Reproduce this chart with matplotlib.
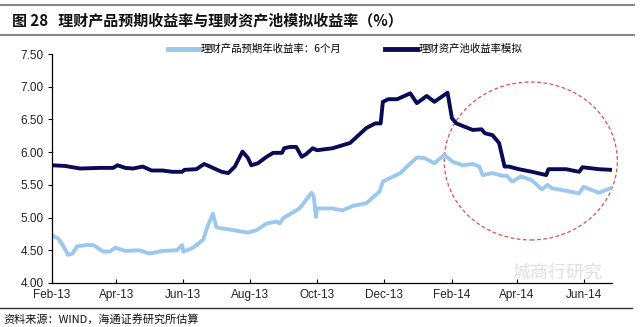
import numpy as np
import pandas as pd
import matplotlib
matplotlib.use("Agg")
import matplotlib.pyplot as plt
import matplotlib.dates as mdates
from matplotlib.patches import Ellipse

plt.rcParams['font.family'] = ['Noto Sans CJK SC', 'DejaVu Sans']

# ---- data ----
pool_dates = ["2013-02-01", "2013-02-13", "2013-02-27", "2013-03-17", "2013-03-29", "2013-04-02",
              "2013-04-09", "2013-04-16", "2013-04-25", "2013-05-03", "2013-05-13", "2013-05-22",
              "2013-05-31", "2013-06-02", "2013-06-13", "2013-06-20", "2013-06-28", "2013-07-06",
              "2013-07-12", "2013-07-18", "2013-07-25", "2013-07-30", "2013-08-02", "2013-08-08",
              "2013-08-16", "2013-08-22", "2013-08-30", "2013-09-01", "2013-09-06", "2013-09-12",
              "2013-09-17", "2013-09-21", "2013-09-27", "2013-10-01", "2013-10-15", "2013-10-31",
              "2013-11-15", "2013-11-23", "2013-11-28", "2013-11-30", "2013-12-05", "2013-12-13",
              "2013-12-25", "2013-12-31", "2014-01-09", "2014-01-16", "2014-01-28", "2014-02-01",
              "2014-02-05", "2014-02-20", "2014-02-28", "2014-03-03", "2014-03-10", "2014-03-16",
              "2014-03-21", "2014-03-25", "2014-04-03", "2014-04-15", "2014-04-28", "2014-04-30",
              "2014-05-16", "2014-05-28", "2014-05-31", "2014-06-15", "2014-06-26"]
pool_vals = [5.80, 5.79, 5.75, 5.76, 5.76, 5.80,
             5.76, 5.75, 5.78, 5.72, 5.72, 5.70,
             5.70, 5.73, 5.74, 5.82, 5.76, 5.70,
             5.68, 5.78, 6.01, 5.91, 5.80, 5.83,
             5.93, 5.99, 5.99, 6.06, 6.08, 6.08,
             5.93, 5.97, 6.06, 6.03, 6.06, 6.14,
             6.37, 6.44, 6.44, 6.77, 6.81, 6.81,
             6.90, 6.75, 6.86, 6.77, 6.91, 6.52,
             6.44, 6.34, 6.35, 6.29, 6.26, 6.14,
             5.78, 5.78, 5.74, 5.70, 5.65, 5.74,
             5.74, 5.70, 5.77, 5.74, 5.73]

prod_dates = ["2013-02-01", "2013-02-07", "2013-02-11", "2013-02-16", "2013-02-20", "2013-02-24",
              "2013-03-05", "2013-03-11", "2013-03-20", "2013-03-26", "2013-03-31", "2013-04-09",
              "2013-04-22", "2013-05-01", "2013-05-13", "2013-05-26", "2013-05-31", "2013-06-01",
              "2013-06-10", "2013-06-19", "2013-06-23", "2013-06-28", "2013-07-01", "2013-07-04",
              "2013-07-16", "2013-07-30", "2013-08-07", "2013-08-16", "2013-08-25", "2013-08-28",
              "2013-08-31", "2013-09-15", "2013-09-21", "2013-09-26", "2013-09-28", "2013-09-30",
              "2013-10-01", "2013-10-15", "2013-10-24", "2013-11-03", "2013-11-15", "2013-11-27",
              "2013-11-30", "2013-12-06", "2013-12-16", "2013-12-22", "2013-12-31", "2014-01-07",
              "2014-01-16", "2014-01-25", "2014-02-02", "2014-02-11", "2014-02-20", "2014-02-26",
              "2014-03-01", "2014-03-10", "2014-03-19", "2014-03-23", "2014-03-28", "2014-04-05",
              "2014-04-15", "2014-04-24", "2014-04-29", "2014-05-03", "2014-05-16", "2014-05-28",
              "2014-06-01", "2014-06-15", "2014-06-26"]
prod_vals = [4.73, 4.68, 4.58, 4.43, 4.45, 4.56,
             4.58, 4.58, 4.48, 4.48, 4.54, 4.49,
             4.50, 4.45, 4.49, 4.50, 4.58, 4.48,
             4.54, 4.66, 4.86, 5.06, 4.86, 4.84,
             4.81, 4.77, 4.81, 4.91, 4.94, 4.91,
             4.99, 5.14, 5.27, 5.38, 5.32, 5.01,
             5.14, 5.14, 5.11, 5.18, 5.22, 5.40,
             5.55, 5.60, 5.68, 5.78, 5.92, 5.91,
             5.83, 5.96, 5.85, 5.80, 5.82, 5.78,
             5.65, 5.68, 5.64, 5.64, 5.55, 5.63,
             5.57, 5.43, 5.50, 5.45, 5.41, 5.37,
             5.47, 5.38, 5.45]

y_ticks = [4.00, 4.50, 5.00, 5.50, 6.00, 6.50, 7.00, 7.50]
x_ticks = ["2013-02-01", "2013-04-01", "2013-06-01", "2013-08-01", "2013-10-01",
           "2013-12-01", "2014-02-01", "2014-04-01", "2014-06-01"]

label_prod = "理财产品预期年收益率：6个月"
label_pool = "理财资产池收益率模拟"
title = "图 28   理财产品预期收益率与理财资产池模拟收益率（%）"
source = "资料来源：WIND，海通证券研究所估算"

light = "#9cc8ee"
dark = "#0b0b55"

fig = plt.figure(figsize=(6.4, 3.27), dpi=100)
ax = fig.add_axes([0.0808, 0.1346, 0.8755, 0.700])

ax.plot(pd.to_datetime(prod_dates), prod_vals, color=light, lw=2.8, label=label_prod,
        solid_joinstyle='round')
ax.plot(pd.to_datetime(pool_dates), pool_vals, color=dark, lw=2.8, label=label_pool,
        solid_joinstyle='round')

ax.set_ylim(4.0, 7.5)
ax.set_yticks(y_ticks)
ax.set_yticklabels([f"{v:.2f}" for v in y_ticks], family=['Liberation Sans', 'DejaVu Sans'],
                   fontsize=8.5, color="#222222")
ax.set_xlim(pd.Timestamp("2013-02-01"), pd.Timestamp("2014-06-27"))
ax.set_xticks(pd.to_datetime(x_ticks))
ax.xaxis.set_major_formatter(mdates.DateFormatter("%b-%y"))
for t in ax.get_xticklabels():
    t.set_fontsize(8.5)
    t.set_family(['Liberation Sans', 'DejaVu Sans'])
    t.set_color("#222222")

for s in ['top', 'right']:
    ax.spines[s].set_visible(False)
ax.spines['left'].set_linewidth(0.9)
ax.spines['bottom'].set_linewidth(0.9)
ax.tick_params(axis='x', direction='in', length=3, pad=4)
ax.tick_params(axis='y', direction='out', length=3, pad=3)

leg = ax.legend(loc='upper left', bbox_to_anchor=(0.19, 1.085), ncol=2, frameon=False,
                fontsize=7.5, handlelength=3.0, handletextpad=0.2, columnspacing=4.2)
for h in leg.get_lines():
    h.set_linewidth(3.5)

# red dashed circle highlight
circ = Ellipse((0.855, 0.533), 0.309, 0.69, transform=ax.transAxes, fill=False,
               edgecolor="#d9534f", lw=0.9, ls=(0, (3, 2)), clip_on=False)
ax.add_patch(circ)

# title / rules / source
fig.add_artist(plt.Line2D([0.0, 0.99], [1 - 5 / 327, 1 - 5 / 327], color="#888888", lw=1.5))
fig.add_artist(plt.Line2D([0.0, 0.99], [1 - 35 / 327, 1 - 35 / 327], color="#888888", lw=1.5))
fig.text(0.018, 1 - 20 / 327, title, fontsize=10.8, fontweight='bold', va='center', color="#111111")
fig.add_artist(plt.Line2D([0.0, 0.988], [1 - 308 / 327, 1 - 308 / 327], color="#333333", lw=1.0))
fig.text(0.005, 1 - 319 / 327, source, fontsize=8, va='center', color="#111111")

# watermark (kept just above the axis so it does not sit on the tick labels)
fig.text(0.80, 1 - 273 / 327, "城商行研究", fontsize=13, color="#cccccc", alpha=0.6, va='center')

fig.savefig("out.png", dpi=100)
